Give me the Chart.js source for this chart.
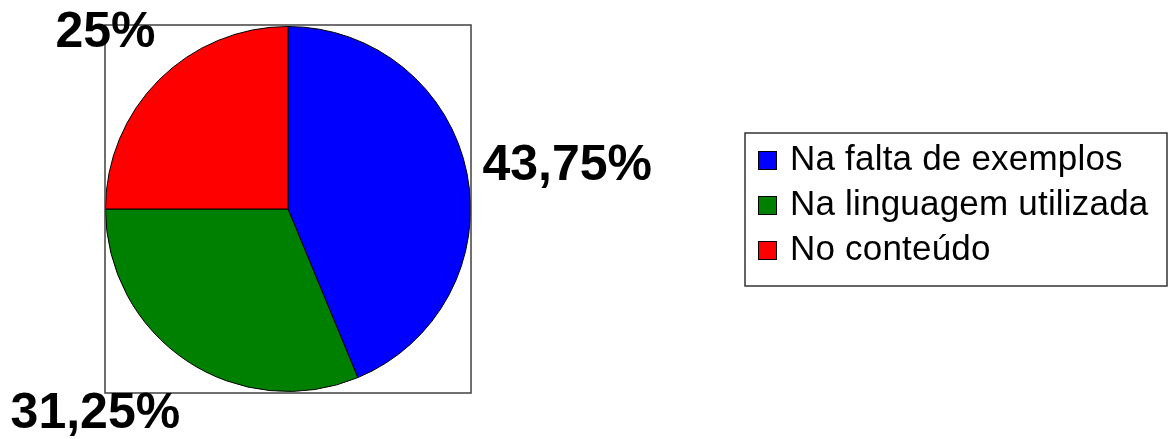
<!DOCTYPE html>
<html>
<head>
<meta charset="utf-8">
<script src="https://cdn.jsdelivr.net/npm/chart.js@4.4.0/dist/chart.umd.min.js"></script>
<style>
	body { margin: 0; background: #fff; }
	canvas { display: block; }
</style>
</head>
<body>
<canvas id="mycanvas" width="1171" height="439"></canvas>
<script>
var categories = ['Na falta de exemplos', 'Na linguagem utilizada', 'No conteúdo'];
var percentages = [43.75, 31.25, 25];
var sliceLabels = ['43,75%', '31,25%', '25%'];
var colors = ['#0000ff', '#008000', '#ff0000'];

var FONT = '"Liberation Sans", Arial, sans-serif';

// frame round the pie, the big percent labels and the boxed legend
var extras = {
	id: 'extras',
	afterDraw: function(chart, args, opts) {
		var ctx = chart.ctx;
		var area = chart.chartArea;
		ctx.save();

		ctx.strokeStyle = '#404040';
		ctx.lineWidth = 1.5;
		ctx.strokeRect(area.left, area.top, area.right - area.left, area.bottom - area.top);

		// percent labels, placed off the middle of each slice
		ctx.font = 'bold 50px ' + FONT;
		ctx.fillStyle = '#000';
		ctx.textBaseline = 'alphabetic';
		var capH = 36;
		var arcs = chart.getDatasetMeta(0).data;
		arcs.forEach(function(arc, i) {
			var p = arc.getProps(['x', 'y', 'startAngle', 'endAngle', 'outerRadius'], true);
			var mid = (p.startAngle + p.endAngle) / 2;
			var c = Math.cos(mid), s = Math.sin(mid);
			var d = p.outerRadius + 26;
			var nudge = opts.nudge[i];
			var ax = p.x + c * d + nudge[0], ay = p.y + s * d + nudge[1];
			ctx.textAlign = c > 0.3 ? 'left' : (c < -0.3 ? 'right' : 'center');
			var base;
			if (s < -0.3) base = ay;
			else if (s > 0.3) base = ay + capH;
			else base = ay + capH / 2;
			ctx.fillText(sliceLabels[i], ax, base);
		});

		// legend
		var lg = opts.legendBox;
		ctx.strokeStyle = '#333';
		ctx.lineWidth = 1.5;
		ctx.strokeRect(lg.left, lg.top, lg.width, lg.height);
		ctx.font = '35px ' + FONT;
		ctx.textAlign = 'left';
		if ('letterSpacing' in ctx) ctx.letterSpacing = '0.2px';
		var ds = chart.data.datasets[0];
		chart.data.labels.forEach(function(lab, i) {
			var base = lg.top + 37 + i * 45;
			ctx.fillStyle = ds.backgroundColor[i];
			ctx.fillRect(758, base - 19, 19, 19);
			ctx.strokeStyle = '#000';
			ctx.lineWidth = 1;
			ctx.strokeRect(758.5, base - 18.5, 18, 18);
			ctx.fillStyle = '#000';
			ctx.fillText(lab, 790, base);
		});
		ctx.restore();
	}
};

var chartdata = {
	labels: categories,
	datasets: [
		{
			data: percentages,
			backgroundColor: colors,
			borderColor: '#000',
			borderWidth: 1
		}
	]
};

var ctx = document.getElementById('mycanvas');

var pieGraph = new Chart(ctx, {
	type: 'pie',
	data: chartdata,
	options: {
		responsive: false,
		animation: false,
		devicePixelRatio: 1,
		layout: { padding: { left: 105, top: 25, right: 700, bottom: 46 } },
		plugins: {
			legend: { display: false },
			tooltip: { enabled: false },
			extras: {
				nudge: [[-10, -6], [8, 10], [15, -15]],
				legendBox: { left: 745, top: 133, width: 422, height: 153 }
			}
		}
	},
	plugins: [extras]
});
</script>
</body>
</html>
